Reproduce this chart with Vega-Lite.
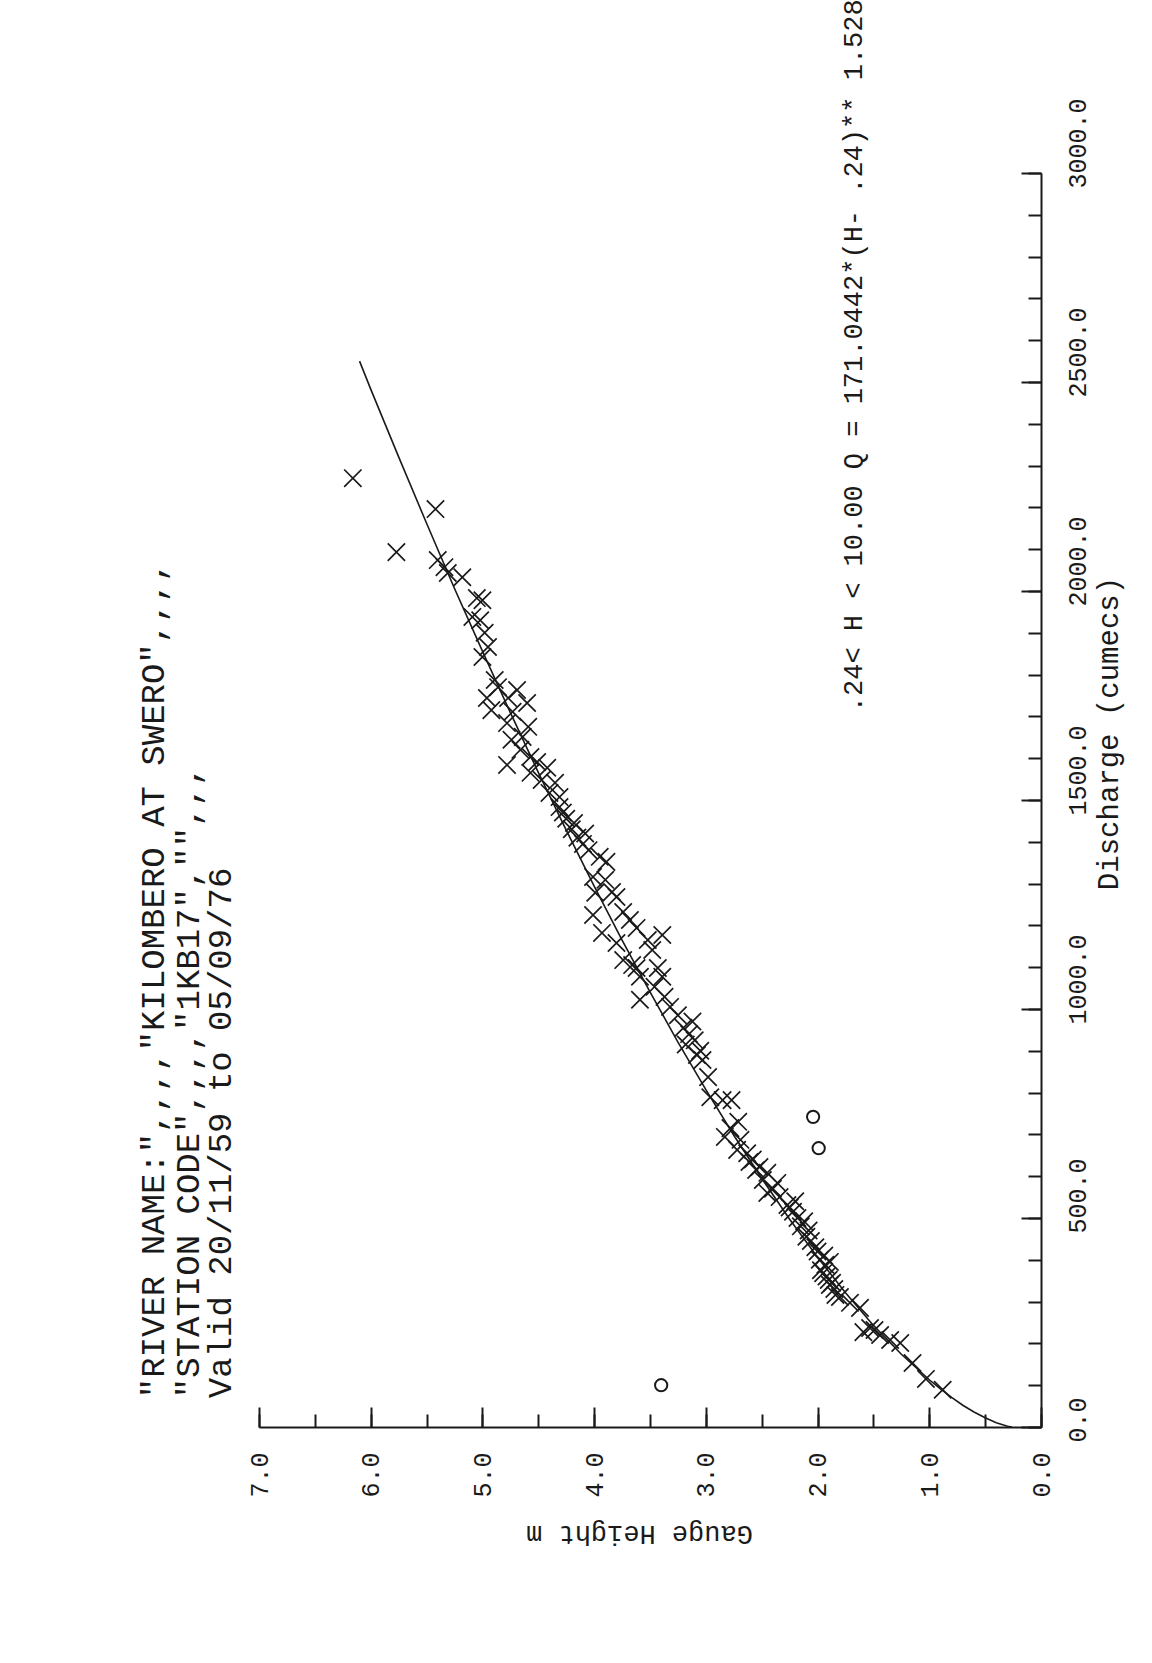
{
  "$schema": "https://vega.github.io/schema/vega-lite/v6.json",
  "width": 782,
  "height": 1254,
  "autosize": {"type": "none"},
  "padding": {"left": 259, "top": 173, "right": 111, "bottom": 236},
  "background": "white",
  "config": {"view": {"stroke": null}, "font": "Liberation Mono"},
  "datasets": {
    "curve": [
      {"gauge": 0.26, "discharge": 0}, {"gauge": 0.30, "discharge": 2}, {"gauge": 0.40, "discharge": 10},
      {"gauge": 0.50, "discharge": 22}, {"gauge": 0.60, "discharge": 36}, {"gauge": 0.70, "discharge": 52},
      {"gauge": 0.80, "discharge": 71}, {"gauge": 0.90, "discharge": 91}, {"gauge": 1.00, "discharge": 113},
      {"gauge": 1.25, "discharge": 174}, {"gauge": 1.50, "discharge": 243}, {"gauge": 1.75, "discharge": 321},
      {"gauge": 2.00, "discharge": 406}, {"gauge": 2.25, "discharge": 497}, {"gauge": 2.50, "discharge": 595},
      {"gauge": 2.75, "discharge": 698}, {"gauge": 3.00, "discharge": 807}, {"gauge": 3.25, "discharge": 921},
      {"gauge": 3.50, "discharge": 1041}, {"gauge": 3.75, "discharge": 1165}, {"gauge": 4.00, "discharge": 1294},
      {"gauge": 4.25, "discharge": 1428}, {"gauge": 4.50, "discharge": 1566}, {"gauge": 4.75, "discharge": 1709},
      {"gauge": 5.00, "discharge": 1856}, {"gauge": 5.25, "discharge": 2006}, {"gauge": 5.50, "discharge": 2162},
      {"gauge": 5.75, "discharge": 2321}, {"gauge": 6.00, "discharge": 2483}, {"gauge": 6.10, "discharge": 2550}
    ],
    "obs": [
      {"gauge": 0.88, "discharge": 89}, {"gauge": 1.03, "discharge": 115}, {"gauge": 1.15, "discharge": 153},
      {"gauge": 1.26, "discharge": 201}, {"gauge": 1.35, "discharge": 208}, {"gauge": 1.44, "discharge": 220},
      {"gauge": 1.49, "discharge": 232}, {"gauge": 1.53, "discharge": 237}, {"gauge": 1.59, "discharge": 227},
      {"gauge": 1.62, "discharge": 285}, {"gauge": 1.71, "discharge": 297}, {"gauge": 1.80, "discharge": 311},
      {"gauge": 1.84, "discharge": 316}, {"gauge": 1.89, "discharge": 340}, {"gauge": 1.95, "discharge": 368},
      {"gauge": 1.93, "discharge": 388}, {"gauge": 1.89, "discharge": 395}, {"gauge": 1.85, "discharge": 330},
      {"gauge": 1.90, "discharge": 352}, {"gauge": 1.92, "discharge": 360}, {"gauge": 1.87, "discharge": 345},
      {"gauge": 1.97, "discharge": 375}, {"gauge": 1.98, "discharge": 400}, {"gauge": 1.94, "discharge": 410},
      {"gauge": 2.00, "discharge": 420}, {"gauge": 2.02, "discharge": 430}, {"gauge": 2.06, "discharge": 445},
      {"gauge": 2.10, "discharge": 455}, {"gauge": 2.08, "discharge": 470}, {"gauge": 2.15, "discharge": 480},
      {"gauge": 2.18, "discharge": 500}, {"gauge": 2.22, "discharge": 515}, {"gauge": 2.12, "discharge": 492},
      {"gauge": 2.25, "discharge": 525}, {"gauge": 2.20, "discharge": 540}, {"gauge": 2.27, "discharge": 531},
      {"gauge": 2.34, "discharge": 550}, {"gauge": 2.45, "discharge": 560}, {"gauge": 2.40, "discharge": 570},
      {"gauge": 2.36, "discharge": 584}, {"gauge": 2.49, "discharge": 591}, {"gauge": 2.45, "discharge": 608},
      {"gauge": 2.55, "discharge": 615}, {"gauge": 2.52, "discharge": 622}, {"gauge": 2.61, "discharge": 634},
      {"gauge": 2.58, "discharge": 640}, {"gauge": 2.63, "discharge": 655}, {"gauge": 2.72, "discharge": 663},
      {"gauge": 2.69, "discharge": 687}, {"gauge": 2.83, "discharge": 694}, {"gauge": 2.78, "discharge": 715},
      {"gauge": 2.71, "discharge": 730}, {"gauge": 2.85, "discharge": 782}, {"gauge": 2.77, "discharge": 782},
      {"gauge": 2.96, "discharge": 789}, {"gauge": 2.98, "discharge": 837}, {"gauge": 3.03, "discharge": 878},
      {"gauge": 3.08, "discharge": 890}, {"gauge": 3.05, "discharge": 900}, {"gauge": 3.18, "discharge": 915},
      {"gauge": 3.10, "discharge": 925}, {"gauge": 3.15, "discharge": 940}, {"gauge": 3.20, "discharge": 955},
      {"gauge": 3.12, "discharge": 970}, {"gauge": 3.25, "discharge": 985}, {"gauge": 3.32, "discharge": 1005},
      {"gauge": 3.59, "discharge": 1022}, {"gauge": 3.37, "discharge": 1029}, {"gauge": 3.46, "discharge": 1053},
      {"gauge": 3.39, "discharge": 1077}, {"gauge": 3.59, "discharge": 1077}, {"gauge": 3.62, "discharge": 1098},
      {"gauge": 3.43, "discharge": 1098}, {"gauge": 3.66, "discharge": 1105}, {"gauge": 3.74, "discharge": 1117},
      {"gauge": 3.48, "discharge": 1141}, {"gauge": 3.80, "discharge": 1158}, {"gauge": 3.52, "discharge": 1165},
      {"gauge": 3.39, "discharge": 1177}, {"gauge": 3.93, "discharge": 1182}, {"gauge": 3.62, "discharge": 1194},
      {"gauge": 3.68, "discharge": 1213}, {"gauge": 4.01, "discharge": 1225}, {"gauge": 3.74, "discharge": 1232},
      {"gauge": 3.80, "discharge": 1268}, {"gauge": 3.99, "discharge": 1278}, {"gauge": 3.84, "discharge": 1280},
      {"gauge": 3.90, "discharge": 1309}, {"gauge": 4.01, "discharge": 1316}, {"gauge": 3.89, "discharge": 1352},
      {"gauge": 3.95, "discharge": 1364}, {"gauge": 4.05, "discharge": 1380}, {"gauge": 4.10, "discharge": 1395},
      {"gauge": 4.15, "discharge": 1410}, {"gauge": 4.08, "discharge": 1420}, {"gauge": 4.20, "discharge": 1430},
      {"gauge": 4.18, "discharge": 1445}, {"gauge": 4.25, "discharge": 1455}, {"gauge": 4.28, "discharge": 1470},
      {"gauge": 4.31, "discharge": 1483}, {"gauge": 4.31, "discharge": 1507}, {"gauge": 4.40, "discharge": 1517},
      {"gauge": 4.35, "discharge": 1541}, {"gauge": 4.47, "discharge": 1548}, {"gauge": 4.57, "discharge": 1565},
      {"gauge": 4.42, "discharge": 1577}, {"gauge": 4.78, "discharge": 1584}, {"gauge": 4.51, "discharge": 1591},
      {"gauge": 4.57, "discharge": 1603}, {"gauge": 4.66, "discharge": 1620}, {"gauge": 4.74, "discharge": 1644},
      {"gauge": 4.64, "discharge": 1651}, {"gauge": 4.59, "discharge": 1675}, {"gauge": 4.78, "discharge": 1684},
      {"gauge": 4.73, "discharge": 1711}, {"gauge": 4.92, "discharge": 1715}, {"gauge": 4.60, "discharge": 1732},
      {"gauge": 4.77, "discharge": 1744}, {"gauge": 4.96, "discharge": 1744}, {"gauge": 4.69, "discharge": 1763},
      {"gauge": 4.86, "discharge": 1770}, {"gauge": 4.89, "discharge": 1787}, {"gauge": 5.00, "discharge": 1842},
      {"gauge": 4.95, "discharge": 1866}, {"gauge": 4.98, "discharge": 1900}, {"gauge": 5.02, "discharge": 1930},
      {"gauge": 5.09, "discharge": 1938}, {"gauge": 5.00, "discharge": 1978}, {"gauge": 5.05, "discharge": 1983},
      {"gauge": 5.18, "discharge": 2033}, {"gauge": 5.31, "discharge": 2043}, {"gauge": 5.34, "discharge": 2057},
      {"gauge": 5.40, "discharge": 2074}, {"gauge": 5.42, "discharge": 2196}, {"gauge": 5.77, "discharge": 2093},
      {"gauge": 6.16, "discharge": 2270}
    ],
    "outliers": [
      {"gauge": 2.04, "discharge": 742}, {"gauge": 1.99, "discharge": 667}, {"gauge": 3.4, "discharge": 100}
    ],
    "header": [
      {"gauge": 7.94, "discharge": 69, "text": "\"RIVER NAME:\",,,,\"KILOMBERO AT SWERO\",,,,"},
      {"gauge": 7.63, "discharge": 69, "text": "\"STATION CODE\",,,,\"1KB17\",\"\",,,"},
      {"gauge": 7.34, "discharge": 69, "text": "Valid 20/11/59 to 05/09/76"}
    ],
    "equation": [
      {"gauge": 1.674, "discharge": 1710, "text": ".24< H < 10.00   Q = 171.0442*(H- .24)** 1.528"}
    ]
  },
  "resolve": {"axis": {"x": "independent", "y": "independent"}},
  "layer": [
    {
      "data": {"name": "curve"},
      "mark": {"type": "line", "color": "#1a1a1a", "strokeWidth": 1.6},
      "encoding": {
        "x": {
          "field": "gauge", "type": "quantitative",
          "scale": {"domain": [0, 7], "reverse": true, "nice": false, "zero": false},
          "axis": {
            "orient": "bottom",
            "values": [0, 0.5, 1, 1.5, 2, 2.5, 3, 3.5, 4, 4.5, 5, 5.5, 6, 6.5, 7],
            "labelExpr": "datum.value % 1 === 0 ? format(datum.value, '.1f') : ''",
            "tickSize": -13,
            "tickColor": "#1a1a1a", "tickWidth": 2,
            "domainColor": "#1a1a1a", "domainWidth": 2,
            "grid": false,
            "labelAngle": 270, "labelAlign": "right", "labelBaseline": "middle",
            "labelPadding": 38, "labelFont": "Liberation Mono", "labelFontSize": 25, "labelColor": "#1a1a1a",
            "labelOverlap": false, "labelFlush": false, "labelBound": false,
            "title": "Gauge Height m", "titleAngle": 180, "titleFont": "Liberation Mono", "titleFontSize": 27,
            "titleFontWeight": "normal", "titleColor": "#1a1a1a", "titleX": 380, "titleY": 106,
            "titleAlign": "center", "titleBaseline": "middle"
          }
        },
        "y": {
          "field": "discharge", "type": "quantitative",
          "scale": {"domain": [0, 3000], "nice": false},
          "axis": {
            "orient": "right",
            "values": [0, 100, 200, 300, 400, 500, 600, 700, 800, 900, 1000, 1100, 1200, 1300, 1400, 1500, 1600, 1700, 1800, 1900, 2000, 2100, 2200, 2300, 2400, 2500, 2600, 2700, 2800, 2900, 3000],
            "labelExpr": "datum.value % 500 === 0 ? format(datum.value, '.1f') : ''",
            "tickSize": -13,
            "tickColor": "#1a1a1a", "tickWidth": 2,
            "domainColor": "#1a1a1a", "domainWidth": 2,
            "grid": false,
            "labelAngle": 270, "labelAlign": "left", "labelBaseline": "middle",
            "labelPadding": 49, "labelOffset": 15,
            "labelFont": "Liberation Mono", "labelFontSize": 25, "labelColor": "#1a1a1a",
            "labelOverlap": false, "labelFlush": false, "labelBound": false,
            "title": "Discharge (cumecs)", "titleAngle": 270, "titleFont": "Liberation Mono", "titleFontSize": 29,
            "titleFontWeight": "normal", "titleColor": "#1a1a1a", "titleX": 67, "titleY": 560,
            "titleAlign": "center", "titleBaseline": "middle"
          }
        }
      }
    },
    {
      "data": {"name": "obs"},
      "mark": {"type": "point", "shape": "M-1,-1L1,1M-1,1L1,-1", "filled": false, "stroke": "#1a1a1a", "strokeWidth": 1.7, "size": 300, "opacity": 1},
      "encoding": {
        "x": {
          "field": "gauge", "type": "quantitative",
          "axis": {"orient": "bottom", "values": [0, 1, 2, 3, 4, 5, 6, 7], "tickSize": -20, "tickColor": "#1a1a1a", "tickWidth": 2, "domain": false, "labels": false, "grid": false, "title": null}
        },
        "y": {
          "field": "discharge", "type": "quantitative",
          "axis": {"orient": "right", "values": [0, 500, 1000, 1500, 2000, 2500, 3000], "tickSize": -20, "tickColor": "#1a1a1a", "tickWidth": 2, "domain": false, "labels": false, "grid": false, "title": null}
        }
      }
    },
    {
      "data": {"name": "outliers"},
      "mark": {"type": "point", "shape": "circle", "filled": false, "stroke": "#1a1a1a", "strokeWidth": 2, "size": 150, "opacity": 1},
      "encoding": {
        "x": {"field": "gauge", "type": "quantitative", "axis": null},
        "y": {"field": "discharge", "type": "quantitative", "axis": null}
      }
    },
    {
      "data": {"name": "header"},
      "mark": {"type": "text", "angle": 270, "align": "left", "baseline": "middle", "font": "Liberation Mono", "fontSize": 34, "color": "#1a1a1a", "clip": false},
      "encoding": {
        "x": {"field": "gauge", "type": "quantitative", "axis": null},
        "y": {"field": "discharge", "type": "quantitative", "axis": null},
        "text": {"field": "text", "type": "nominal"}
      }
    },
    {
      "data": {"name": "equation"},
      "mark": {"type": "text", "angle": 270, "align": "left", "baseline": "middle", "font": "Liberation Mono", "fontSize": 27, "color": "#1a1a1a", "clip": false},
      "encoding": {
        "x": {"field": "gauge", "type": "quantitative", "axis": null},
        "y": {"field": "discharge", "type": "quantitative", "axis": null},
        "text": {"field": "text", "type": "nominal"}
      }
    }
  ]
}
